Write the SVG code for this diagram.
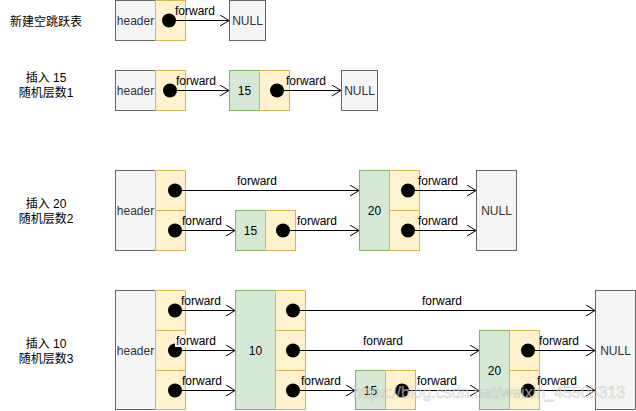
<svg xmlns="http://www.w3.org/2000/svg" width="636" height="411" viewBox="0 0 636 411">
<style>
text{font-family:"Liberation Sans","Noto Sans CJK SC",Arial,sans-serif;font-size:12px}
.g{fill:#f5f5f5;stroke:#666666;stroke-width:1}
.y{fill:#fff2cc;stroke:#d6b656;stroke-width:1}
.v{fill:#d5e8d4;stroke:#82b366;stroke-width:1}
.tg{fill:#333333;text-anchor:middle}
.tv{fill:#000000;text-anchor:middle}
.side{fill:#000000;text-anchor:middle}
.e{stroke:#000;stroke-width:1;fill:none;marker-start:url(#dot);marker-end:url(#open)}
.lb{fill:#000}
.wm{font-size:16px;fill:#ffffff;fill-opacity:0.55;stroke:#8a8a8a;stroke-opacity:0.45;stroke-width:0.6}
</style>
<defs>
<marker id="open" viewBox="0 0 10 12" refX="9.5" refY="6" markerWidth="10" markerHeight="12" markerUnits="userSpaceOnUse" orient="auto">
<path d="M0.5,0.5 L9.5,6 L0.5,11.5" fill="none" stroke="#000" stroke-width="1"/>
</marker>
<marker id="dot" viewBox="0 0 16 16" refX="8" refY="8" markerWidth="16" markerHeight="16" markerUnits="userSpaceOnUse" orient="auto">
<circle cx="8" cy="8" r="7" fill="#000"/>
</marker>
</defs>
<rect width="636" height="411" fill="#ffffff"/>

<g id="labels">
<text class="side" x="46" y="26">新建空跳跃表</text>
<text class="side" x="46" y="82">插入 15</text>
<text class="side" x="46" y="97">随机层数1</text>
<text class="side" x="46" y="208">插入 20</text>
<text class="side" x="46" y="223">随机层数2</text>
<text class="side" x="46" y="348">插入 10</text>
<text class="side" x="46" y="363">随机层数3</text>
</g>

<!-- Row 1 -->
<g id="r1-header">
<rect class="g" x="115.5" y="0.5" width="40" height="40"/>
<text class="tg" x="135.5" y="25">header</text>
<rect class="y" x="155.5" y="0.5" width="30" height="40"/>
</g>
<g id="r1-null">
<rect class="g" x="229.5" y="0.5" width="36" height="40"/>
<text class="tg" x="247.5" y="25">NULL</text>
</g>

<!-- Row 2 -->
<g id="r2-header">
<rect class="g" x="115.5" y="70.5" width="40" height="40"/>
<text class="tg" x="135.5" y="95">header</text>
<rect class="y" x="155.5" y="70.5" width="30" height="40"/>
</g>
<g id="r2-n15">
<rect class="v" x="229.5" y="70.5" width="30" height="40"/>
<text class="tv" x="244.5" y="95">15</text>
<rect class="y" x="259.5" y="70.5" width="30" height="40"/>
</g>
<g id="r2-null">
<rect class="g" x="341.5" y="70.5" width="36" height="40"/>
<text class="tg" x="359.5" y="95">NULL</text>
</g>

<!-- Row 3 -->
<g id="r3-header">
<rect class="g" x="115.5" y="170.5" width="40" height="80"/>
<text class="tg" x="135.5" y="215">header</text>
<rect class="y" x="155.5" y="170.5" width="30" height="40"/>
<rect class="y" x="155.5" y="210.5" width="30" height="40"/>
</g>
<g id="r3-n15">
<rect class="v" x="235.5" y="210.5" width="30" height="40"/>
<text class="tv" x="250.5" y="235">15</text>
<rect class="y" x="265.5" y="210.5" width="30" height="40"/>
</g>
<g id="r3-n20">
<rect class="v" x="359.5" y="170.5" width="30" height="80"/>
<text class="tv" x="374.5" y="215">20</text>
<rect class="y" x="389.5" y="170.5" width="30" height="40"/>
<rect class="y" x="389.5" y="210.5" width="30" height="40"/>
</g>
<g id="r3-null">
<rect class="g" x="476.5" y="170.5" width="40" height="80"/>
<text class="tg" x="496.5" y="215">NULL</text>
</g>

<!-- Row 4 -->
<g id="r4-header">
<rect class="g" x="115.5" y="290.5" width="40" height="119"/>
<text class="tg" x="135.5" y="355">header</text>
<rect class="y" x="155.5" y="290.5" width="30" height="40"/>
<rect class="y" x="155.5" y="330.5" width="30" height="40"/>
<rect class="y" x="155.5" y="370.5" width="30" height="39"/>
</g>
<g id="r4-n10">
<rect class="v" x="235.5" y="290.5" width="40" height="119"/>
<text class="tv" x="255.5" y="355">10</text>
<rect class="y" x="275.5" y="290.5" width="30" height="40"/>
<rect class="y" x="275.5" y="330.5" width="30" height="40"/>
<rect class="y" x="275.5" y="370.5" width="30" height="39"/>
</g>
<g id="r4-n15">
<rect class="v" x="355.5" y="370.5" width="30" height="39"/>
<text class="tv" x="370.5" y="395">15</text>
<rect class="y" x="385.5" y="370.5" width="30" height="39"/>
</g>
<g id="r4-n20">
<rect class="v" x="479.5" y="330.5" width="30" height="79"/>
<text class="tv" x="494.5" y="375">20</text>
<rect class="y" x="509.5" y="330.5" width="30" height="40"/>
<rect class="y" x="509.5" y="370.5" width="30" height="39"/>
</g>
<g id="r4-null">
<rect class="g" x="595.5" y="290.5" width="40" height="119"/>
<text class="tg" x="615.5" y="355">NULL</text>
</g>

<g id="connectors">
<!-- row 1 -->
<path class="e" d="M169,20.5 H229"/>
<text class="lb" x="175" y="15">forward</text>
<!-- row 2 -->
<path class="e" d="M170,90.5 H229"/>
<text class="lb" x="176" y="85">forward</text>
<path class="e" d="M277,90.5 H341"/>
<text class="lb" x="286" y="85">forward</text>
<!-- row 3 -->
<path class="e" d="M175,190.5 H359"/>
<text class="lb" x="237" y="185">forward</text>
<path class="e" d="M175,230.5 H235"/>
<text class="lb" x="182" y="225">forward</text>
<path class="e" d="M283,230.5 H359"/>
<text class="lb" x="297" y="225">forward</text>
<path class="e" d="M408,190.5 H476"/>
<text class="lb" x="418" y="185">forward</text>
<path class="e" d="M408,230.5 H476"/>
<text class="lb" x="418" y="225">forward</text>
<!-- row 4 -->
<path class="e" d="M175,310.5 H235"/>
<text class="lb" x="181" y="305">forward</text>
<path class="e" d="M175,350.5 H235"/>
<rect x="175" y="335" width="41" height="12" fill="#ffffff"/>
<text class="lb" x="176" y="345">forward</text>
<path class="e" d="M175,390.5 H235"/>
<text class="lb" x="182" y="385">forward</text>
<path class="e" d="M293,310.5 H595"/>
<text class="lb" x="422" y="305">forward</text>
<path class="e" d="M293,350.5 H479"/>
<text class="lb" x="363" y="345">forward</text>
<path class="e" d="M293,390.5 H355"/>
<text class="lb" x="301" y="385">forward</text>
<path class="e" d="M402,390.5 H479"/>
<text class="lb" x="417" y="385">forward</text>
<path class="e" d="M528,350.5 H595"/>
<text class="lb" x="539" y="345">forward</text>
<path class="e" d="M528,390.5 H595"/>
<text class="lb" x="537" y="385">forward</text>
</g>

<text class="wm" x="353" y="398">https://blog.csdn.net/weixin_45505313</text>
</svg>
